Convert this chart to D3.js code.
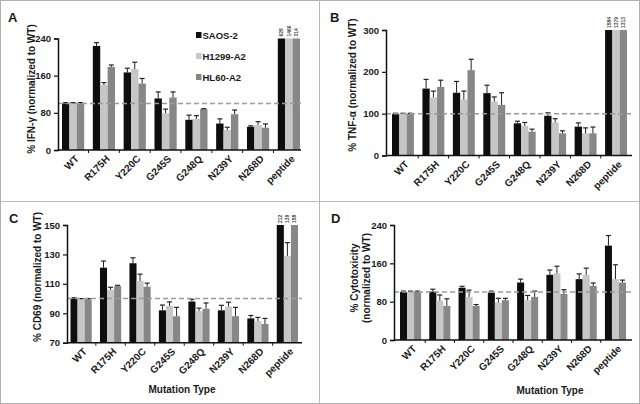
<!DOCTYPE html>
<html>
<head>
<meta charset="utf-8">
<script src="https://cdn.jsdelivr.net/npm/d3@7"></script>
<style>
  body { margin: 0; background: #fff; }
  text { font-family: "Liberation Sans", Arial, sans-serif; font-weight: bold; fill: #1a1a1a; }
</style>
</head>
<body>
<div id="chart"></div>
<script>
// categories and series
var categories = ["WT", "R175H", "Y220C", "G245S", "G248Q", "N239Y", "N268D", "peptide"];
var series = ["SAOS-2", "H1299-A2", "HL60-A2"];
var colors = ["#0e0e0e", "#c6c6c6", "#878787"];

// A: IFN-gamma
var ifnSaos = [100, 224, 167, 111, 65, 57, 50, 240];
var ifnH1299 = [100, 140, 174, 79, 67, 43, 54, 240];
var ifnHl60 = [100, 179, 143, 113, 88, 77, 48, 240];
var ifnSaosErr = [2, 7, 9, 14, 10, 10, 2, 0];
var ifnH1299Err = [2, 5, 15, 9, 7, 6, 7, 0];
var ifnHl60Err = [2, 4, 11, 12, 1, 9, 8, 0];
var ifnPeptide = ["628", "1460", "314"];
var ifnTicks = [0, 80, 160, 240];

// B: TNF-alpha
var tnfSaos = [99, 160, 150, 149, 77, 95, 69, 300];
var tnfH1299 = [99, 139, 134, 129, 71, 79, 53, 300];
var tnfHl60 = [99, 164, 204, 121, 57, 53, 53, 300];
var tnfSaosErr = [2, 22, 27, 19, 5, 7, 9, 0];
var tnfH1299Err = [2, 15, 20, 11, 8, 9, 13, 0];
var tnfHl60Err = [2, 16, 26, 29, 6, 6, 15, 0];
var tnfPeptide = ["1584", "1379", "1313"];
var tnfTicks = [0, 100, 200, 300];

// C: CD69
var cdSaos = [100, 121, 124, 92, 98, 92, 86.5, 150];
var cdH1299 = [99.5, 106, 112, 95, 91.5, 94.5, 84.7, 129];
var cdHl60 = [99.5, 108.5, 108, 88, 93, 88, 82.7, 150];
var cdSaosErr = [0.5, 4.5, 3.7, 3.6, 1.5, 3.4, 2, 0];
var cdH1299Err = [0.5, 1.7, 4.6, 2.7, 2, 3, 2.5, 9];
var cdHl60Err = [0.5, 0.5, 2.5, 6, 4, 6, 3.8, 0];
var cdPeptide = ["212", "139", "158"];
var cdTicks = [70, 90, 110, 130, 150];

// D: cytotoxicity
var cytSaos = [100, 101, 109, 99, 120, 136, 127, 197];
var cytH1299 = [100, 82, 90, 78, 83, 139, 136, 127];
var cytHl60 = [100, 71, 71, 83, 90, 96, 113, 120];
var cytSaosErr = [2, 5, 3, 3, 7, 10, 11, 21];
var cytH1299Err = [2, 12, 14, 9, 10, 15, 14, 30];
var cytHl60Err = [2, 15, 3, 4, 12, 9, 6, 5];
var cytTicks = [0, 80, 160, 240];

var svgWidth = 640;
var svgHeight = 404;

var svg = d3.select("#chart")
  .append("svg")
  .attr("width", svgWidth)
  .attr("height", svgHeight);

// frame and dividers
svg.append("rect")
  .attr("x", 0.5).attr("y", 0.5)
  .attr("width", svgWidth - 1).attr("height", svgHeight - 1)
  .attr("fill", "none").attr("stroke", "#b0b0b0");
svg.append("line").attr("x1", 319.5).attr("x2", 319.5).attr("y1", 0).attr("y2", svgHeight)
  .attr("stroke", "#b8b8b8");
svg.append("line").attr("x1", 0).attr("x2", svgWidth).attr("y1", 201.5).attr("y2", 201.5)
  .attr("stroke", "#b8b8b8");

var panels = [
  {
    letter: "A", lx: 8, ly: 22,
    axisX: 58, axisEnd: 301, band: [62, 300], yRange: [150, 38.5], domain: [0, 240],
    ticks: ifnTicks, title: ["% IFN-\u03b3 (normalized to WT)"], titleX: [31], titleY: 89,
    values: [ifnSaos, ifnH1299, ifnHl60], errs: [ifnSaosErr, ifnH1299Err, ifnHl60Err],
    pep: ifnPeptide, capped: [true, true, true], legend: true
  },
  {
    letter: "B", lx: 330, ly: 22,
    axisX: 386, axisEnd: 632, band: [392, 627], yRange: [155.5, 30], domain: [0, 300],
    ticks: tnfTicks, title: ["% TNF-\u03b1 (normalized to WT)"], titleX: [352], titleY: 85,
    values: [tnfSaos, tnfH1299, tnfHl60], errs: [tnfSaosErr, tnfH1299Err, tnfHl60Err],
    pep: tnfPeptide, capped: [true, true, true]
  },
  {
    letter: "C", lx: 9, ly: 223,
    axisX: 67, axisEnd: 302, band: [70.5, 298], yRange: [342.7, 225], domain: [70, 150],
    ticks: cdTicks, title: ["% CD69 (normalized to WT)"], titleX: [37], titleY: 277,
    values: [cdSaos, cdH1299, cdHl60], errs: [cdSaosErr, cdH1299Err, cdHl60Err],
    pep: cdPeptide, capped: [true, false, true], xTitle: [182, 393]
  },
  {
    letter: "D", lx: 331, ly: 223,
    axisX: 394, axisEnd: 632, band: [400, 626], yRange: [340, 225], domain: [0, 240],
    ticks: cytTicks, title: ["% Cytotoxicity", "(normalized  to  WT)"], titleX: [354, 366], titleY: 278,
    values: [cytSaos, cytH1299, cytHl60], errs: [cytSaosErr, cytH1299Err, cytHl60Err],
    pep: null, xTitle: [550, 394]
  }
];

panels.forEach(function (p) {
  var g = svg.append("g");

  var x = d3.scaleBand().domain(categories).range(p.band).paddingInner(0.28).paddingOuter(0);
  var xs = d3.scaleBand().domain(series).range([0, x.bandwidth()]);
  var y = d3.scaleLinear().domain(p.domain).range(p.yRange);
  var base = y(p.domain[0]);

  // bars
  series.forEach(function (s, si) {
    g.selectAll(null)
      .data(categories)
      .enter()
      .append("rect")
      .attr("x", function (c) { return x(c) + xs(s); })
      .attr("width", xs.bandwidth())
      .attr("y", function (c, i) { return y(p.values[si][i]); })
      .attr("height", function (c, i) { return base - y(p.values[si][i]); })
      .attr("fill", colors[si]);

    // error bars (upper only)
    categories.forEach(function (c, i) {
      var e = p.errs[si][i];
      if (!e) return;
      var cx = x(c) + xs(s) + xs.bandwidth() / 2;
      var y0 = y(p.values[si][i]);
      var y1 = y(p.values[si][i] + e);
      g.append("line").attr("x1", cx).attr("x2", cx).attr("y1", y0).attr("y2", y1)
        .attr("stroke", "#222").attr("stroke-width", 1);
      g.append("line").attr("x1", cx - 2.5).attr("x2", cx + 2.5).attr("y1", y1).attr("y2", y1)
        .attr("stroke", "#222").attr("stroke-width", 1.2);
    });
  });

  // tiny labels on the capped peptide bars
  if (p.pep) {
    series.forEach(function (s, si) {
      var cx = x("peptide") + xs(s) + xs.bandwidth() / 2;
      var top = y(p.domain[1]);
      g.append("text")
        .attr("transform", "translate(" + (cx + 1.8) + "," + (top - 2) + ") rotate(-90)")
        .attr("font-size", "5px")
        .attr("font-weight", "normal")
        .style("fill", "#444")
        .text(p.pep[si]);
    });
  }

  // reference line at 100%
  g.append("line")
    .attr("x1", p.axisX).attr("x2", p.axisEnd)
    .attr("y1", y(100)).attr("y2", y(100))
    .attr("stroke", "#9a9a9a").attr("stroke-width", 1.5)
    .attr("stroke-dasharray", "5,3");

  // y axis
  var leftAxis = d3.axisLeft(y).tickValues(p.ticks).tickSize(4).tickPadding(3);
  var ya = g.append("g")
    .attr("transform", "translate(" + p.axisX + ",0)")
    .call(leftAxis);
  ya.select(".domain").attr("stroke", "#111").attr("stroke-width", 1.5);
  ya.selectAll(".tick line").attr("stroke", "#111").attr("stroke-width", 1.2);
  ya.selectAll(".tick text").attr("font-size", "9.5px").attr("font-family", null);

  // x axis line with small ticks between groups
  g.append("line")
    .attr("x1", p.axisX).attr("x2", p.axisEnd)
    .attr("y1", base).attr("y2", base)
    .attr("stroke", "#111").attr("stroke-width", 1.5);
  categories.forEach(function (c, i) {
    if (i === 0) return;
    var bx = x(c) - x.step() * x.paddingInner() / 2;
    g.append("line").attr("x1", bx).attr("x2", bx).attr("y1", base).attr("y2", base + 3)
      .attr("stroke", "#111").attr("stroke-width", 1);
  });

  // category labels
  g.selectAll(null)
    .data(categories)
    .enter()
    .append("text")
    .attr("transform", function (c) {
      return "translate(" + (x(c) + x.bandwidth() / 2 + 4) + "," + (base + 7) + ") rotate(-45)";
    })
    .attr("text-anchor", "end")
    .attr("dominant-baseline", "central")
    .attr("font-size", "10px")
    .text(function (c) { return c; });

  // y title
  p.title.forEach(function (t, ti) {
    g.append("text")
      .attr("transform", "translate(" + p.titleX[ti] + "," + p.titleY + ") rotate(-90)")
      .attr("text-anchor", "middle")
      .attr("dominant-baseline", "central")
      .attr("font-size", "10px")
      .text(t);
  });

  // x title
  if (p.xTitle) {
    g.append("text")
      .attr("x", p.xTitle[0]).attr("y", p.xTitle[1])
      .attr("text-anchor", "middle")
      .attr("font-size", "10px")
      .text("Mutation Type");
  }

  // panel letter
  g.append("text")
    .attr("x", p.lx).attr("y", p.ly)
    .attr("font-size", "13px")
    .text(p.letter);

  // legend
  if (p.legend) {
    var lg = g.append("g").attr("transform", "translate(196,35)");
    series.forEach(function (s, si) {
      var row = lg.append("g").attr("transform", "translate(0," + (si * 21) + ")");
      row.append("rect").attr("x", 0).attr("y", -3).attr("width", 5.5).attr("height", 6)
        .attr("fill", colors[si]);
      row.append("text").attr("x", 6.5).attr("y", 0)
        .attr("dominant-baseline", "central")
        .attr("font-size", "9.5px")
        .text(s);
    });
  }
});
</script>
</body>
</html>
